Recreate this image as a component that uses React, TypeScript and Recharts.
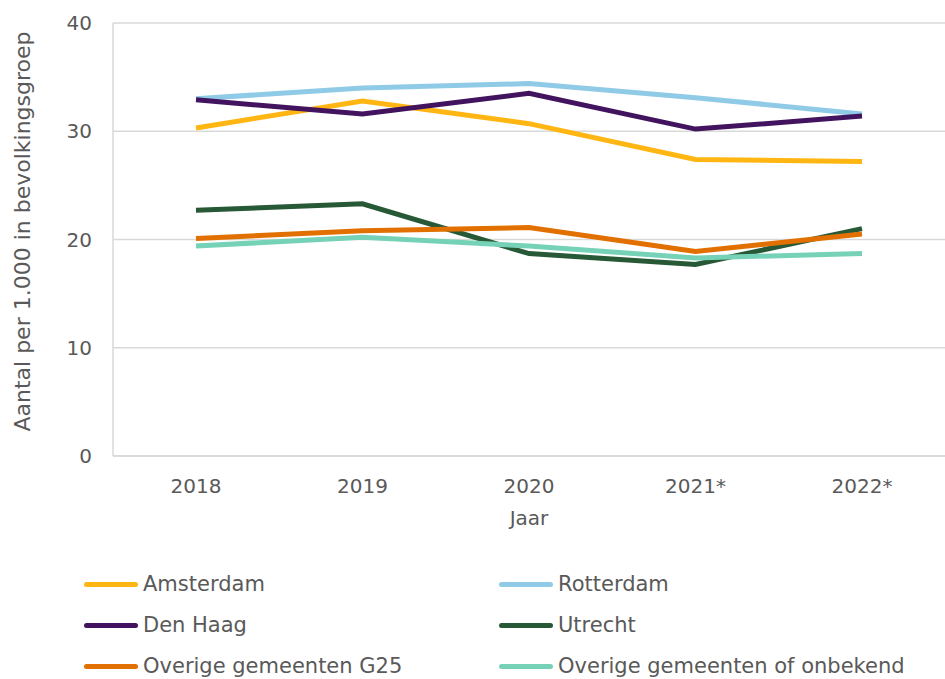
import { LineChart, Line, XAxis, YAxis, CartesianGrid } from "recharts";

const years = ["2018", "2019", "2020", "2021*", "2022*"];
const amsterdam = [30.3, 32.8, 30.7, 27.4, 27.2];
const rotterdam = [33.0, 34.0, 34.4, 33.1, 31.6];
const denHaag = [32.9, 31.6, 33.5, 30.2, 31.4];
const utrecht = [22.7, 23.3, 18.7, 17.7, 21.0];
const overigG25 = [20.1, 20.8, 21.1, 18.9, 20.5];
const overigOnbekend = [19.4, 20.2, 19.4, 18.3, 18.7];
const yTicks = [0, 10, 20, 30, 40];

const series = [
  { key: "Amsterdam", values: amsterdam, color: "#FFB612" },
  { key: "Rotterdam", values: rotterdam, color: "#8FCAE7" },
  { key: "Den Haag", values: denHaag, color: "#42145F" },
  { key: "Utrecht", values: utrecht, color: "#275937" },
  { key: "Overige gemeenten G25", values: overigG25, color: "#E17000" },
  { key: "Overige gemeenten of onbekend", values: overigOnbekend, color: "#76D2B6" },
];

const data = years.map((year, i) => {
  const row: Record<string, string | number> = { year };
  series.forEach((s) => (row[s.key] = s.values[i]));
  return row;
});

const font = "'DejaVu Sans', Verdana, sans-serif";
const textColor = "#595959";

export default function App() {
  return (
    <div style={{ position: "absolute", left: 0, top: 0, width: 945, height: 679 }}>
      <LineChart width={945} height={679} data={data} margin={{ top: 23, right: 0, bottom: 143, left: 0 }}>
        <CartesianGrid vertical={false} stroke="#d9d9d9" strokeWidth={1.5} />
        <XAxis
          dataKey="year"
          padding={{ left: 83, right: 83 }}
          axisLine={{ stroke: "#d9d9d9", strokeWidth: 1.5 }}
          tickLine={false}
          tickSize={0}
          tickMargin={23}
          height={80}
          tick={{ fill: textColor, fontSize: 20, fontFamily: font }}
          label={{ value: "Jaar", position: "insideBottom", offset: 11, style: { fill: textColor, fontSize: 20, fontFamily: font } }}
        />
        <YAxis
          domain={[0, 40]}
          ticks={yTicks}
          width={113}
          axisLine={{ stroke: "#d9d9d9", strokeWidth: 1.5 }}
          tickLine={false}
          tickSize={0}
          tickMargin={21}
          tick={{ fill: textColor, fontSize: 20, fontFamily: font }}
          label={{ value: "Aantal per 1.000 in bevolkingsgroep", angle: -90, position: "insideLeft", offset: 22, dy: -8, style: { fill: textColor, fontSize: 22, fontFamily: font, textAnchor: "middle" } }}
        />
        {series.map((s) => (
          <Line
            key={s.key}
            type="linear"
            dataKey={s.key}
            stroke={s.color}
            strokeWidth={5}
            dot={false}
            activeDot={false}
            isAnimationActive={false}
          />
        ))}
      </LineChart>
      {/* legend in two columns, like the original */}
      <div
        style={{
          position: "absolute",
          left: 84,
          top: 573,
          display: "grid",
          gridTemplateColumns: "415px 440px",
          rowGap: 19,
          fontFamily: font,
          fontSize: 21,
          lineHeight: "22px",
          color: textColor,
        }}
      >
        {series.map((s) => (
          <div key={s.key} style={{ display: "flex", alignItems: "center", height: 22, whiteSpace: "nowrap" }}>
            <span style={{ display: "inline-block", width: 54, height: 5, borderRadius: 3, background: s.color, marginRight: 5 }} />
            <span>{s.key}</span>
          </div>
        ))}
      </div>
    </div>
  );
}
